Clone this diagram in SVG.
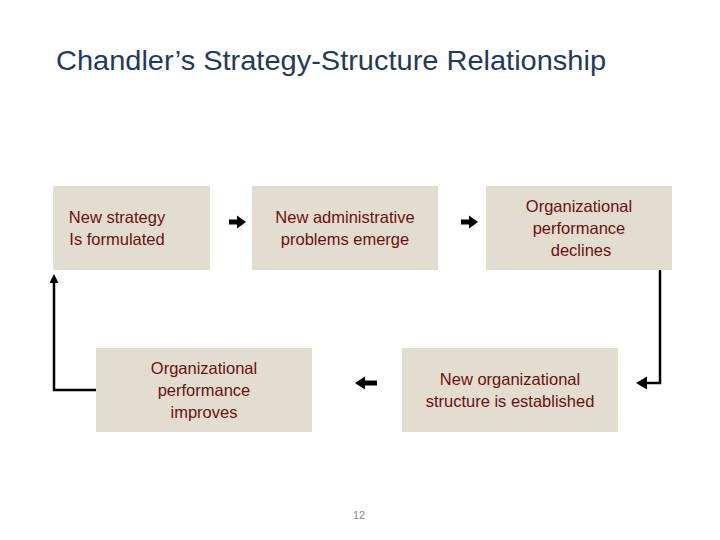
<svg xmlns="http://www.w3.org/2000/svg" width="720" height="540" viewBox="0 0 720 540">
<style>
.box{fill:#e3ddcf}
.lbl{font-family:"Liberation Sans","Open Sans",sans-serif;font-size:16.5px;fill:#6e0f0f;text-anchor:middle}
.ttl{font-family:"Liberation Sans","Open Sans",sans-serif;font-size:28px;fill:#1f3b5c}
.ln{fill:none;stroke:#000;stroke-width:2.5}
.ah{fill:#000}
</style>
<rect width="720" height="540" fill="#ffffff"/>
<text class="ttl" x="56" y="70" textLength="550" lengthAdjust="spacingAndGlyphs">Chandler’s Strategy-Structure Relationship</text>
<g id="n1"><rect class="box" x="53" y="186" width="157" height="84"/><text class="lbl" x="117" y="223">New strategy</text><text class="lbl" x="117" y="245">Is formulated</text></g>
<g id="n2"><rect class="box" x="252" y="186" width="186" height="84"/><text class="lbl" x="345" y="223">New administrative</text><text class="lbl" x="345" y="245">problems emerge</text></g>
<g id="n3"><rect class="box" x="486" y="186" width="186" height="84"/><text class="lbl" x="579" y="212">Organizational</text><text class="lbl" x="579" y="234">performance</text><text class="lbl" x="581" y="256">declines</text></g>
<g id="n4"><rect class="box" x="402" y="348" width="216" height="84"/><text class="lbl" x="510" y="385">New organizational</text><text class="lbl" x="510" y="407">structure is established</text></g>
<g id="n5"><rect class="box" x="96" y="348" width="216" height="84"/><text class="lbl" x="204" y="374">Organizational</text><text class="lbl" x="204" y="396">performance</text><text class="lbl" x="204" y="418">improves</text></g>
<g id="connectors">
<polygon class="ah" points="229,219.5 237,219.5 237,215.5 246,222 237,228.5 237,224.5 229,224.5"/>
<polygon class="ah" points="461,219.5 469,219.5 469,215.5 478,222 469,228.5 469,224.5 461,224.5"/>
<polyline class="ln" points="660,270 660,383 646,383"/>
<polygon class="ah" points="636,383 647,376.5 647,389.5"/>
<polygon class="ah" points="377,380.5 365,380.5 365,376.5 355,383 365,389.5 365,385.5 377,385.5"/>
<polyline class="ln" points="96,390 54,390 54,282"/>
<polygon class="ah" points="54,274 49.5,283 58.5,283"/>
</g>
<text x="359" y="519" font-family="Liberation Sans, sans-serif" font-size="11" fill="#8a8a8a" text-anchor="middle">12</text>
</svg>
